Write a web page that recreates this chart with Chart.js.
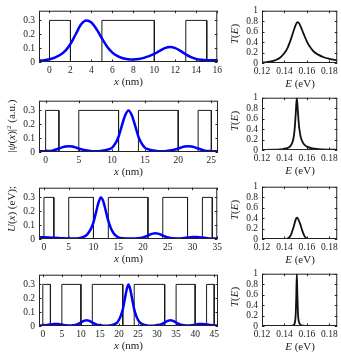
<!DOCTYPE html>
<html lang="en">
<head>
<meta charset="UTF-8">
<title>Superlattice wavefunctions and transmission</title>
<style>
  body { margin: 0; background: #fff; }
  #wrap { position: relative; width: 341px; height: 355px; overflow: hidden;
          font-family: 'Liberation Serif', 'Times New Roman', serif; color: #222; }
  canvas { position: absolute; }
  .lbl { position: absolute; font-size: 11px; white-space: nowrap; line-height: 1;
         transform: translate(-50%, -50%); }
  .rot { transform: translate(-50%, -50%) rotate(-90deg); }
  sup { font-size: 7px; vertical-align: 4px; line-height: 0; }
</style>
</head>
<body>
<div id="wrap"></div>

<script src="https://cdn.jsdelivr.net/npm/chart.js"></script>
<script>
    // ---- data ----
    // barrier positions (nm) and height (eV)
    const barrierHeight = 0.3;
    const barriers1 = [[0, 2], [5, 10], [13, 15]];
    const barriers2 = [[0, 2], [5, 11], [14, 20], [23, 25]];
    const barriers3 = [[0, 2], [5, 10], [13, 21], [24, 29], [32, 34]];
    const barriers4 = [[0, 2], [5, 10], [13, 21], [24, 32], [35, 40], [43, 45]];

    // |psi(x)|^2 samples
    const psiX1 = [-1, -0.5, 0, 0.5, 1, 1.5, 2, 2.5, 3, 3.5, 4, 4.5, 5, 5.5, 6, 6.5, 7, 7.5, 8, 8.5,
                   9, 9.5, 10, 10.5, 11, 11.5, 12, 12.5, 13, 13.5, 14, 14.5, 15, 15.5, 16];
    const psiY1 = [0.010, 0.013, 0.020, 0.032, 0.05, 0.08, 0.13, 0.2, 0.27, 0.30, 0.285, 0.235, 0.17, 0.11,
                   0.068, 0.042, 0.027, 0.02, 0.018, 0.021, 0.03, 0.042, 0.058, 0.08, 0.1, 0.108, 0.1,
                   0.08, 0.055, 0.035, 0.022, 0.016, 0.013, 0.012, 0.012];

    const psiX2 = [-1, 0, 1, 2, 2.5, 3, 3.5, 4, 4.5, 5, 6, 7, 8, 9, 9.5, 10, 10.5, 11, 11.5, 12, 12.5,
                   13, 13.5, 14, 14.5, 15, 15.5, 16, 17, 18, 19, 20, 20.5, 21, 21.5, 22, 22.5, 23, 24, 25, 26];
    const psiY2 = [0.005, 0.006, 0.01, 0.025, 0.033, 0.039, 0.041, 0.039, 0.033, 0.025, 0.012, 0.006,
                   0.006, 0.012, 0.02, 0.03, 0.06, 0.11, 0.19, 0.265, 0.30, 0.265, 0.19, 0.11, 0.06,
                   0.03, 0.02, 0.012, 0.006, 0.006, 0.012, 0.025, 0.033, 0.039, 0.041, 0.039, 0.033,
                   0.025, 0.01, 0.006, 0.005];

    const psiX3 = [-1, 0, 1, 2, 3, 4, 5, 6, 7, 8, 8.5, 9, 9.5, 10, 10.5, 11, 11.5, 12, 12.5, 13, 13.5,
                   14, 14.5, 15, 16, 17, 18, 19, 20, 21, 21.5, 22, 22.5, 23, 23.5, 24, 25, 26, 27, 28,
                   29, 30, 30.5, 31, 32, 33, 34, 35];
    const psiY3 = [0.012, 0.012, 0.011, 0.009, 0.007, 0.005, 0.004, 0.004, 0.006, 0.015, 0.025, 0.045,
                   0.075, 0.12, 0.19, 0.26, 0.30, 0.27, 0.20, 0.13, 0.08, 0.045, 0.025, 0.012, 0.005,
                   0.003, 0.003, 0.005, 0.012, 0.025, 0.033, 0.039, 0.042, 0.039, 0.033, 0.025, 0.012,
                   0.005, 0.004, 0.006, 0.01, 0.014, 0.015, 0.014, 0.01, 0.006, 0.004, 0.003];

    const psiX4 = [-1, 0, 1, 2, 3, 3.5, 4, 5, 6, 7, 8, 9, 10, 10.5, 11, 11.5, 12, 12.5, 13, 14, 15, 16,
                   17, 18, 19, 19.5, 20, 20.5, 21, 21.5, 22, 22.5, 23, 23.5, 24, 24.5, 25, 25.5, 26, 27,
                   28, 29, 30, 31, 32, 32.5, 33, 33.5, 34, 34.5, 35, 36, 37, 38, 39, 40, 41, 41.5, 42,
                   43, 44, 45, 46];
    const psiY4 = [0.003, 0.004, 0.007, 0.011, 0.014, 0.015, 0.014, 0.01, 0.005, 0.003, 0.005, 0.012,
                   0.025, 0.033, 0.039, 0.041, 0.039, 0.033, 0.025, 0.012, 0.005, 0.002, 0.002, 0.005,
                   0.015, 0.025, 0.045, 0.075, 0.12, 0.19, 0.26, 0.30, 0.26, 0.19, 0.12, 0.075, 0.045,
                   0.025, 0.015, 0.005, 0.002, 0.002, 0.005, 0.012, 0.025, 0.033, 0.039, 0.041, 0.039,
                   0.033, 0.025, 0.012, 0.005, 0.003, 0.005, 0.01, 0.014, 0.015, 0.014, 0.011, 0.007,
                   0.004, 0.003];

    // transmission T(E)
    const eX1 = [0.12, 0.124, 0.128, 0.132, 0.136, 0.14, 0.143, 0.146, 0.149, 0.151, 0.152, 0.154, 0.157,
                 0.16, 0.163, 0.166, 0.17, 0.175, 0.18, 0.187];
    const tY1 = [0.01, 0.018, 0.03, 0.055, 0.1, 0.19, 0.3, 0.47, 0.67, 0.77, 0.78, 0.72, 0.56, 0.41,
                 0.3, 0.22, 0.16, 0.11, 0.08, 0.05];

    const eX2 = [0.12, 0.13, 0.136, 0.14, 0.143, 0.145, 0.147, 0.148, 0.149, 0.15, 0.151, 0.152, 0.153,
                 0.154, 0.155, 0.157, 0.16, 0.165, 0.17, 0.18, 0.187];
    const tY2 = [0.002, 0.005, 0.01, 0.02, 0.04, 0.07, 0.14, 0.22, 0.38, 0.68, 1.0, 0.72, 0.45, 0.3,
                 0.21, 0.12, 0.065, 0.03, 0.018, 0.008, 0.005];

    const eX3 = [0.12, 0.14, 0.142, 0.144, 0.146, 0.148, 0.15, 0.151, 0.152, 0.154, 0.156, 0.158, 0.16,
                 0.162, 0.187];
    const tY3 = [0, 0, 0.004, 0.025, 0.09, 0.22, 0.37, 0.41, 0.39, 0.29, 0.15, 0.05, 0.01, 0.001, 0];

    const eX4 = [0.12, 0.144, 0.147, 0.148, 0.149, 0.1495, 0.15, 0.1505, 0.151, 0.1515, 0.152, 0.1525,
                 0.153, 0.154, 0.155, 0.157, 0.16, 0.187];
    const tY4 = [0, 0.002, 0.008, 0.018, 0.045, 0.09, 0.22, 0.55, 1.0, 0.6, 0.26, 0.12, 0.07, 0.03,
                 0.015, 0.005, 0.001, 0];

    // axis ranges and ticks
    const xRange1 = [-1, 16], xRange2 = [-1, 26], xRange3 = [-1, 35], xRange4 = [-1, 46];
    const xTicks1 = [0, 2, 4, 6, 8, 10, 12, 14, 16];
    const xTicks2 = [0, 5, 10, 15, 20, 25];
    const xTicks3 = [0, 5, 10, 15, 20, 25, 30, 35];
    const xTicks4 = [0, 5, 10, 15, 20, 25, 30, 35, 40, 45];
    const psiRange = [0, 0.37];
    const psiTicks = [0, 0.1, 0.2, 0.3];
    const eRange = [0.12, 0.187];
    const eTicks = [0.12, 0.14, 0.16, 0.18];
    const tRange = [0, 1];
    const tTicks = [0, 0.2, 0.4, 0.6, 0.8, 1];

    // ---- drawing ----
    Chart.defaults.font.family = "'Liberation Serif', 'Times New Roman', serif";
    Chart.defaults.font.size = 9.5;
    Chart.defaults.color = '#222';

    const wrap = document.getElementById('wrap');

    // box + inward ticks on all four sides, like the original
    const boxPlugin = {
        id: 'box',
        afterDatasetsDraw(chart) {
            const { ctx, chartArea: a, scales } = chart;
            const tl = 2.5;
            ctx.save();
            ctx.strokeStyle = '#222';
            ctx.lineWidth = 1;
            ctx.beginPath();
            scales.x.ticks.forEach(t => {
                const px = Math.round(scales.x.getPixelForValue(t.value)) + 0.5;
                ctx.moveTo(px, a.bottom); ctx.lineTo(px, a.bottom - tl);
                ctx.moveTo(px, a.top); ctx.lineTo(px, a.top + tl);
            });
            scales.y.ticks.forEach(t => {
                const py = Math.round(scales.y.getPixelForValue(t.value)) + 0.5;
                ctx.moveTo(a.left, py); ctx.lineTo(a.left + tl, py);
                ctx.moveTo(a.right, py); ctx.lineTo(a.right - tl, py);
            });
            ctx.stroke();
            ctx.strokeRect(a.left + 0.5, a.top + 0.5, a.width - 1, a.height - 1);
            ctx.restore();
        }
    };

    function toPts(xs, ys) {
        return xs.map((x, i) => ({ x: x, y: ys[i] }));
    }

    // step outline of the barriers
    function barrierPts(barriers, range) {
        let pts = [{ x: range[0], y: 0 }];
        barriers.forEach(b => {
            pts.push({ x: b[0], y: 0 }, { x: b[0], y: barrierHeight },
                     { x: b[1], y: barrierHeight }, { x: b[1], y: 0 });
        });
        pts.push({ x: range[1], y: 0 });
        return pts;
    }

    function fmt(v) {
        return String(Math.round(v * 100) / 100);
    }

    function makePanel(box, datasets, xr, xt, yr, yt) {
        // box = plot area [left, top, right, bottom] in page pixels
        const cv = document.createElement('canvas');
        const cLeft = box.cLeft, cTop = box[1] - 4;
        const w = box.cRight - cLeft, h = box[3] - box[1] + 4 + 18;
        cv.width = w; cv.height = h;
        cv.style.left = cLeft + 'px'; cv.style.top = cTop + 'px';
        cv.style.width = w + 'px'; cv.style.height = h + 'px';
        wrap.appendChild(cv);

        new Chart(cv, {
            type: 'line',
            data: { datasets: datasets },
            options: {
                responsive: false,
                animation: false,
                devicePixelRatio: 1,
                layout: { autoPadding: false, padding: { top: 4, left: 0, bottom: 0, right: box.cRight - box[2] } },
                plugins: { legend: { display: false }, tooltip: { enabled: false } },
                elements: { point: { radius: 0 } },
                scales: {
                    x: {
                        type: 'linear', min: xr[0], max: xr[1],
                        grid: { display: false, drawTicks: false },
                        border: { display: false },
                        ticks: { padding: 3, maxRotation: 0, autoSkip: false, callback: fmt },
                        afterBuildTicks: s => { s.ticks = xt.map(v => ({ value: v })); },
                        afterFit: s => { s.height = 18; }
                    },
                    y: {
                        type: 'linear', min: yr[0], max: yr[1],
                        grid: { display: false, drawTicks: false },
                        border: { display: false },
                        ticks: { padding: 4, autoSkip: false, callback: fmt },
                        afterBuildTicks: s => { s.ticks = yt.map(v => ({ value: v })); },
                        afterFit: s => { s.width = box[0] - cLeft; }
                    }
                }
            },
            plugins: [boxPlugin]
        });
    }

    function label(html, cx, cy, rotated) {
        const d = document.createElement('div');
        d.className = rotated ? 'lbl rot' : 'lbl';
        d.innerHTML = html;
        d.style.left = cx + 'px';
        d.style.top = cy + 'px';
        wrap.appendChild(d);
    }

    const leftTops = [5, 95, 182, 269];
    const rightTops = [5, 92, 181, 268];
    const leftH = 57, rightH = 58;

    const barrierSets = [barriers1, barriers2, barriers3, barriers4];
    const psiXs = [psiX1, psiX2, psiX3, psiX4];
    const psiYs = [psiY1, psiY2, psiY3, psiY4];
    const xRanges = [xRange1, xRange2, xRange3, xRange4];
    const xTickSets = [xTicks1, xTicks2, xTicks3, xTicks4];
    const eXs = [eX1, eX2, eX3, eX4];
    const tYs = [tY1, tY2, tY3, tY4];

    for (let i = 0; i < 4; i++) {
        // left: potential profile + probability density
        const lb = [39, leftTops[i], 218, leftTops[i] + leftH];
        lb.cLeft = 0; lb.cRight = 225;
        makePanel(lb, [
            {
                data: toPts(psiXs[i], psiYs[i]),
                borderColor: '#0000ff', borderWidth: 2.5,
                cubicInterpolationMode: 'monotone', order: 0
            },
            {
                data: barrierPts(barrierSets[i], xRanges[i]),
                borderColor: '#1a1a1a', borderWidth: 1, tension: 0, order: 1
            }
        ], xRanges[i], xTickSets[i], psiRange, psiTicks);
        label('<i>x</i> (nm)', (lb[0] + lb[2]) / 2, lb[3] + 19, false);

        // right: transmission
        const rb = [262, rightTops[i], 338, rightTops[i] + rightH];
        rb.cLeft = 238; rb.cRight = 341;
        makePanel(rb, [
            {
                data: toPts(eXs[i], tYs[i]),
                borderColor: '#111', borderWidth: 1.8,
                cubicInterpolationMode: 'monotone'
            }
        ], eRange, eTicks, tRange, tTicks);
        label('<i>E</i> (eV)', (rb[0] + rb[2]) / 2, rb[3] + 20, false);
        label('<i>T</i>(<i>E</i>)', 234, (rb[1] + rb[3]) / 2, true);
    }

    label('|<i>&psi;</i>(<i>x</i>)|<sup>2</sup> (a.u.)', 11, 126, true);
    label('<i>U</i>(<i>x</i>) (eV);', 11, 209, true);
</script>
</body>
</html>
